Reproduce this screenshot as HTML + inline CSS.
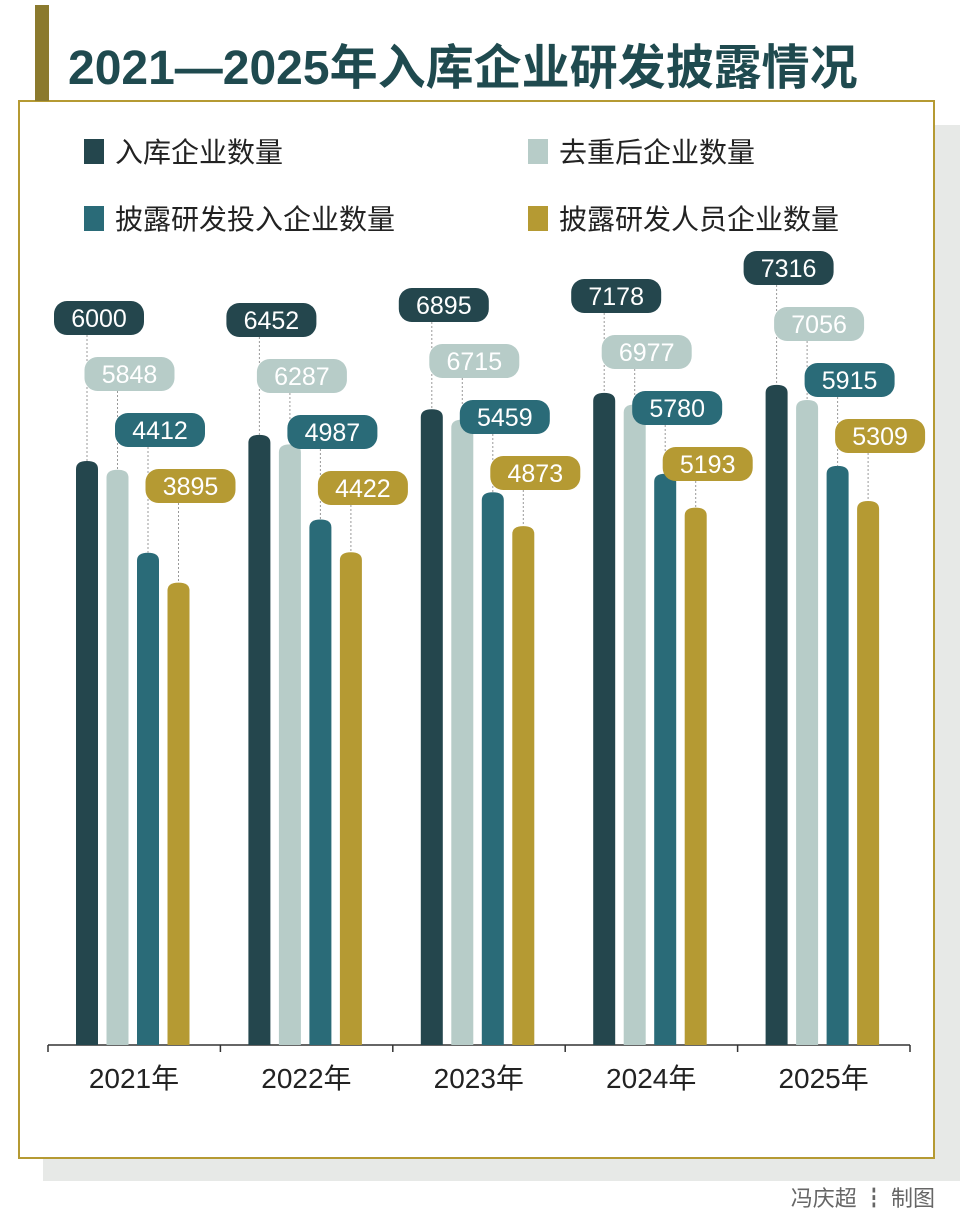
<!DOCTYPE html>
<html><head><meta charset="utf-8"><style>
body{margin:0;width:960px;height:1223px;background:#fff;position:relative;overflow:hidden;font-family:"Liberation Sans","Noto Sans CJK SC",sans-serif}
</style></head><body>
<svg width="960" height="1223" style="position:absolute;left:0;top:0">
<rect x="43" y="125" width="917" height="1056" fill="#e7e9e7"/>
<rect x="19" y="101" width="915" height="1057" fill="#fff" stroke="#b59a33" stroke-width="2"/>
<rect x="35" y="5" width="14" height="96" fill="#8b7a2e"/>
<text x="68" y="84" font-size="48" font-weight="bold" fill="#1f4a4f" font-family="Liberation Sans,Noto Sans CJK SC,sans-serif">2021—2025年入库企业研发披露情况</text>
<g font-size="28" fill="#222" font-family="Liberation Sans,Noto Sans CJK SC,sans-serif">
<rect x="84" y="139" width="20" height="25" fill="#24464d"/><text x="115" y="162">入库企业数量</text>
<rect x="528" y="139" width="20" height="25" fill="#b7ccc8"/><text x="559" y="162">去重后企业数量</text>
<rect x="84" y="206" width="20" height="25" fill="#2a6b78"/><text x="115" y="229">披露研发投入企业数量</text>
<rect x="528" y="206" width="20" height="25" fill="#b59a33"/><text x="559" y="229">披露研发人员企业数量</text>
</g>
<g id="plot"></g>
<text x="935" y="1206" font-size="22" fill="#666" text-anchor="end" font-family="Liberation Sans,Noto Sans CJK SC,sans-serif">冯庆超 ┇ 制图</text>
</svg>
<script>
const years=["2021年","2022年","2023年","2024年","2025年"];
const totalCount=[6000,6452,6895,7178,7316];
const dedupCount=[5848,6287,6715,6977,7056];
const rdInvestCount=[4412,4987,5459,5780,5915];
const rdStaffCount=[3895,4422,4873,5193,5309];
const series=[totalCount,dedupCount,rdInvestCount,rdStaffCount];
const colors=["#24464d","#b7ccc8","#2a6b78","#b59a33"];
const pillColors=["#24464d","#b7ccc8","#2a6b78","#b59a33"];
const pillTop=[318,320,305,296,268];
const base=1045;
function y(v){return 461+(6000-v)*0.0578;}
function gx(i){return 48+172.4*i;}
const NS="http://www.w3.org/2000/svg";
const g=document.getElementById('plot');
function mk(t,a){const e=document.createElementNS(NS,t);for(const k in a)e.setAttribute(k,a[k]);g.appendChild(e);return e;}
const ax=mk('line',{x1:48,y1:base,x2:910,y2:base,stroke:'#333','stroke-width':1.5});


for(let i=0;i<=5;i++){const t=mk('line',{x1:gx(i),y1:base,x2:gx(i),y2:base+7,stroke:'#333','stroke-width':1.5});

}
years.forEach((yr,i)=>{
 const l=mk('text',{x:gx(i)+86,y:1088,'font-size':28,'text-anchor':'middle',fill:'#222'});l.textContent=yr;
 
 
 series.forEach((s,j)=>{
  const cx=gx(i)+39+30.5*j, top=y(s[i]), w=22;
  const b=mk('path',{d:`M${cx-w/2},${base} V${top+8} Q${cx-w/2},${top} ${cx},${top} Q${cx+w/2},${top} ${cx+w/2},${top+8} V${base} Z`,fill:colors[j]});
  
  
  const py=pillTop[i]+56*j;
  const dl=mk('line',{x1:cx,y1:py+17,x2:cx,y2:top,stroke:'#999','stroke-width':1,'stroke-dasharray':'2,2'});
  
  
  const p=mk('rect',{x:cx-33,y:py-17,width:90,height:34,rx:13,fill:pillColors[j]});
  
  
  const tx=mk('text',{x:cx+12,y:py+9,'font-size':25,'text-anchor':'middle',fill:'#fff'});tx.textContent=s[i];
  
  
 });
});
</script>
</body></html>
